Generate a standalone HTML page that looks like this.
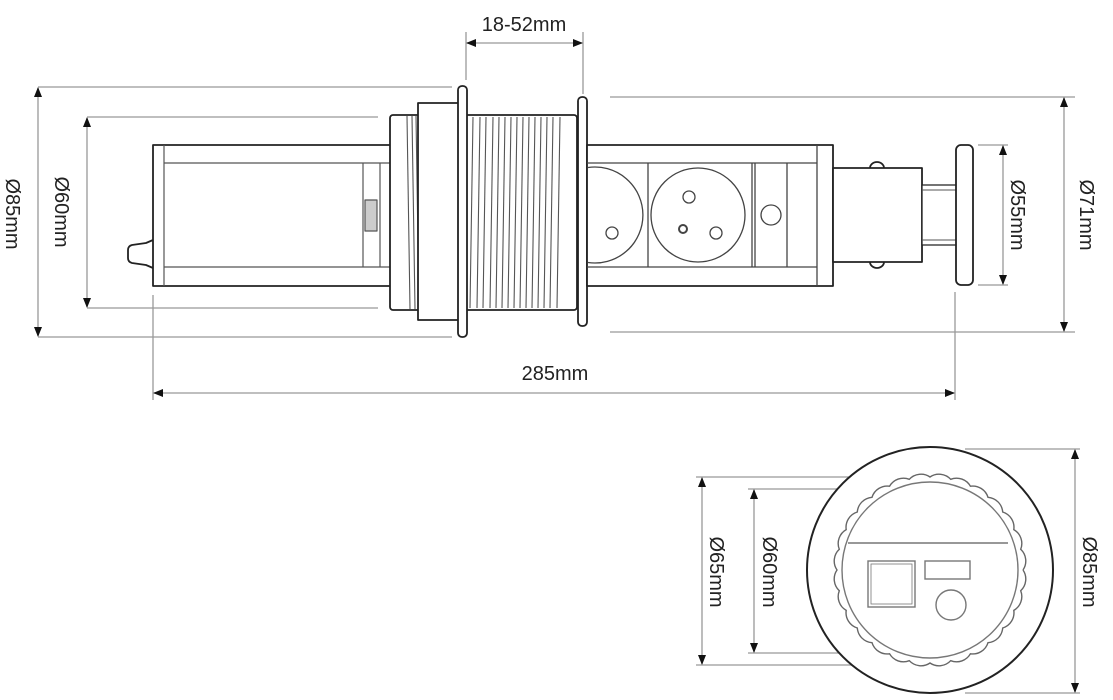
<!DOCTYPE html>
<html><head><meta charset="utf-8"><style>
html,body{margin:0;padding:0;background:#fff;}
svg{display:block;}
text{font-family:"Liberation Sans",Arial,sans-serif;font-size:20px;fill:#222;}
</style></head><body>
<svg width="1113" height="700" viewBox="0 0 1113 700" xmlns="http://www.w3.org/2000/svg">
<defs>
<marker id="a" markerWidth="10" markerHeight="10" refX="9" refY="4" orient="auto-start-reverse" markerUnits="userSpaceOnUse"><path d="M0,0 L10,4 L0,8 Z" fill="#111"/></marker>
</defs>
<g stroke="#999" stroke-width="1.3" fill="none">
<line x1="38" y1="87" x2="452" y2="87"/><line x1="38" y1="337" x2="452" y2="337"/>
<line x1="87" y1="117" x2="378" y2="117"/><line x1="87" y1="308" x2="378" y2="308"/>
<line x1="466" y1="32" x2="466" y2="80"/><line x1="583" y1="32" x2="583" y2="94"/>
<line x1="610" y1="97" x2="1075" y2="97"/><line x1="610" y1="332" x2="1075" y2="332"/>
<line x1="978" y1="145" x2="1008" y2="145"/><line x1="978" y1="285" x2="1008" y2="285"/>
<line x1="153" y1="295" x2="153" y2="400"/><line x1="955" y1="292" x2="955" y2="400"/>
<line x1="965" y1="449" x2="1080" y2="449"/><line x1="965" y1="693" x2="1080" y2="693"/>
<line x1="696" y1="477" x2="935" y2="477"/><line x1="696" y1="665" x2="935" y2="665"/>
<line x1="748" y1="489" x2="900" y2="489"/><line x1="748" y1="653" x2="900" y2="653"/>
<line x1="38" y1="88" x2="38" y2="336" marker-start="url(#a)" marker-end="url(#a)"/>
<line x1="87" y1="118" x2="87" y2="307" marker-start="url(#a)" marker-end="url(#a)"/>
<line x1="467" y1="43" x2="582" y2="43" marker-start="url(#a)" marker-end="url(#a)"/>
<line x1="1064" y1="98" x2="1064" y2="331" marker-start="url(#a)" marker-end="url(#a)"/>
<line x1="1003" y1="146" x2="1003" y2="284" marker-start="url(#a)" marker-end="url(#a)"/>
<line x1="154" y1="393" x2="954" y2="393" marker-start="url(#a)" marker-end="url(#a)"/>
<line x1="1075" y1="450" x2="1075" y2="692" marker-start="url(#a)" marker-end="url(#a)"/>
<line x1="702" y1="478" x2="702" y2="664" marker-start="url(#a)" marker-end="url(#a)"/>
<line x1="754" y1="490" x2="754" y2="652" marker-start="url(#a)" marker-end="url(#a)"/>
</g>
<text x="524" y="31" text-anchor="middle">18-52mm</text>
<text x="555" y="380" text-anchor="middle">285mm</text>
<text transform="translate(6,214) rotate(90)" text-anchor="middle">Ø85mm</text>
<text transform="translate(55,212) rotate(90)" text-anchor="middle">Ø60mm</text>
<text transform="translate(1011,215) rotate(90)" text-anchor="middle">Ø55mm</text>
<text transform="translate(1080,215) rotate(90)" text-anchor="middle">Ø71mm</text>
<text transform="translate(1083,572) rotate(90)" text-anchor="middle">Ø85mm</text>
<text transform="translate(710,572) rotate(90)" text-anchor="middle">Ø65mm</text>
<text transform="translate(763,572) rotate(90)" text-anchor="middle">Ø60mm</text>

<g stroke="#222" stroke-width="1.8" fill="#fff" stroke-linejoin="round">
<path d="M153,240 L146,243 L132,245 Q128,246 128,250 L128,258 Q128,262 132,263 L146,265 L153,268"/>
<rect x="153" y="145" width="240" height="141"/>
<g stroke="#555" stroke-width="1.2">
<line x1="164" y1="145" x2="164" y2="286"/>
<line x1="164" y1="163" x2="393" y2="163"/><line x1="164" y1="267" x2="393" y2="267"/>
<line x1="363" y1="163" x2="363" y2="267"/><line x1="380" y1="163" x2="380" y2="267"/>
<rect x="365" y="200" width="12" height="31" fill="#ccc"/>
</g>
<rect x="390" y="115" width="30" height="195" rx="3"/>
<g stroke="#555" stroke-width="1.1"><line x1="407" y1="116" x2="410" y2="309"/><line x1="412" y1="116" x2="415" y2="309"/><line x1="416" y1="116" x2="419" y2="309"/></g>
<rect x="418" y="103" width="42" height="217"/>
<rect x="465" y="115" width="112" height="195" rx="3"/>
<g stroke="#555" stroke-width="1.1">
<line x1="473" y1="117" x2="470" y2="308"/><line x1="480" y1="117" x2="477" y2="308"/>
<line x1="486" y1="117" x2="483" y2="308"/><line x1="493" y1="117" x2="490" y2="308"/>
<line x1="499" y1="117" x2="496" y2="308"/><line x1="505" y1="117" x2="502" y2="308"/>
<line x1="511" y1="117" x2="508" y2="308"/><line x1="517" y1="117" x2="514" y2="308"/>
<line x1="523" y1="117" x2="520" y2="308"/><line x1="529" y1="117" x2="526" y2="308"/>
<line x1="535" y1="117" x2="532" y2="308"/><line x1="541" y1="117" x2="538" y2="308"/>
<line x1="547" y1="117" x2="544" y2="308"/><line x1="553" y1="117" x2="550" y2="308"/>
<line x1="560" y1="117" x2="557" y2="308"/>
</g>
<rect x="458" y="86" width="9" height="251" rx="4"/>
<rect x="578" y="97" width="9" height="229" rx="4"/>
<rect x="587" y="145" width="246" height="141"/>
<g stroke="#444" stroke-width="1.3">
<line x1="587" y1="163" x2="817" y2="163"/><line x1="587" y1="267" x2="817" y2="267"/>
<line x1="817" y1="145" x2="817" y2="286"/>
<line x1="648" y1="163" x2="648" y2="267"/><line x1="752" y1="163" x2="752" y2="267"/><line x1="755" y1="163" x2="755" y2="267"/>
<line x1="787" y1="163" x2="787" y2="267"/>
<path d="M588,167.5 A48,48 0 1 1 588,262.5" fill="none"/>
<circle cx="698" cy="215" r="47" fill="none"/>
<circle cx="689" cy="197" r="6" fill="none"/>
<circle cx="683" cy="229" r="4" stroke-width="2"/>
<circle cx="716" cy="233" r="6" fill="none"/>
<circle cx="612" cy="233" r="6" fill="none"/>
<circle cx="771" cy="215" r="10" fill="none"/>
</g>
<ellipse cx="877" cy="168" rx="7" ry="6"/><ellipse cx="877" cy="262" rx="7" ry="6"/>
<rect x="833" y="168" width="89" height="94"/>
<rect x="922" y="185" width="36" height="60" stroke-width="1.3"/>
<g stroke="#555" stroke-width="1.1"><line x1="922" y1="190" x2="958" y2="190"/><line x1="922" y1="240" x2="958" y2="240"/></g>
<rect x="956" y="145" width="17" height="140" rx="5"/>
<circle cx="930" cy="570" r="123" stroke-width="2"/>
</g>
<g fill="none" stroke="#777" stroke-width="1.4">
<path id="wv" d="" stroke="#666"/>
<circle cx="930" cy="570" r="88"/>
<line x1="848" y1="543" x2="1008" y2="543"/>
<rect x="868" y="561" width="47" height="46"/><rect x="871" y="564" width="41" height="40" stroke-width="0.8"/>
<rect x="925" y="561" width="45" height="18"/>
<circle cx="951" cy="605" r="15"/>
</g>
</svg>
<script>
(function(){var n=28,r=93,cx=930,cy=570,d="";
for(var i=0;i<=n;i++){var t=i*2*Math.PI/n,x=cx+r*Math.cos(t),y=cy+r*Math.sin(t);
if(i==0)d+="M"+x.toFixed(1)+","+y.toFixed(1);else d+=" A16,16 0 0 1 "+x.toFixed(1)+","+y.toFixed(1);}
document.getElementById("wv").setAttribute("d",d);})();
</script>
</body></html>
